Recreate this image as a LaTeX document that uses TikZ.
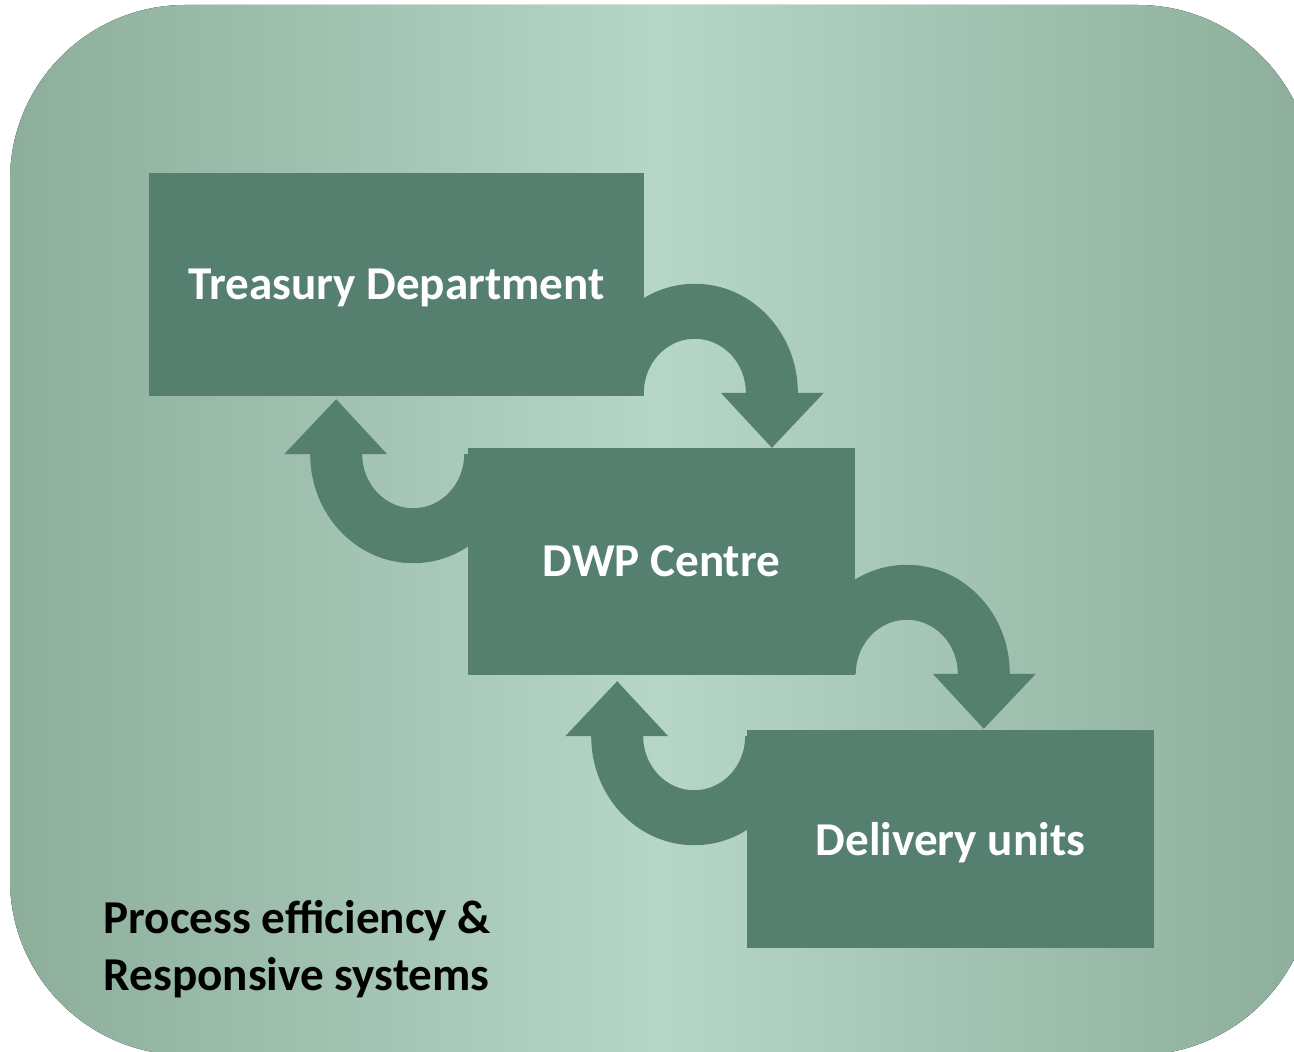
\documentclass[tikz,border=0pt]{standalone}
\usepackage{fontspec}
\setmainfont{Carlito}
\usepackage{tikz}
\usetikzlibrary{calc}
\definecolor{paneledge}{HTML}{8CAE9A}
\definecolor{panelmid}{HTML}{B6D6C8}
\definecolor{boxgreen}{HTML}{55806F}
\pgfdeclarelayer{background}
\pgfsetlayers{background,main}
\tikzset{
  panel/.style={left color=paneledge, right color=paneledge, middle color=panelmid},
  box/.style={rectangle, fill=boxgreen, text=white, inner sep=0pt, text depth=0pt,
    font=\fontsize{13.4}{16}\selectfont\bfseries},
  note/.style={text=black, align=left, inner sep=0pt,
    font=\fontsize{13.4}{16.2}\selectfont\bfseries},
  turn/.pic={
    \fill[boxgreen] (-103,0) arc[start angle=180,end angle=360,x radius=103,y radius=109]
      -- (129,0) -- (77,55) -- (26,0) -- (51,0)
      arc[start angle=360,end angle=180,x radius=51,y radius=54] -- cycle;
  },
}

\begin{document}
\begin{tikzpicture}[x=0.01cm, y=-0.01cm]
  \useasboundingbox (0,0) rectangle (1294,1052);

  \node[box, minimum width=4.95cm, minimum height=2.23cm] (treasury) at (396.5,284.5) {Treasury Department};
  \node[box, minimum width=3.87cm, minimum height=2.27cm] (dwp) at (661.5,561.5) {DWP Centre};
  \node[box, minimum width=4.07cm, minimum height=2.18cm] (delivery) at (950.5,839) {Delivery units};

  \node[note, anchor=west] (caption) at (103,949) {Process efficiency \&\\Responsive systems};

  \coordinate (t1) at ($(treasury.south east)+(50,-4)$);
  \coordinate (t2) at ($(dwp.north west)+(-54,7)$);
  \coordinate (t3) at ($(dwp.south east)+(51,-2)$);
  \coordinate (t4) at ($(delivery.north west)+(-52,7)$);

  \begin{pgfonlayer}{background}
    \fill[panel, rounded corners=1.75cm] (10,5) rectangle (1313,1055);
    \pic at (t1) {turn};
    \pic[rotate=180] at (t2) {turn};
    \pic at (t3) {turn};
    \pic[rotate=180] at (t4) {turn};
  \end{pgfonlayer}
\end{tikzpicture}
\end{document}
